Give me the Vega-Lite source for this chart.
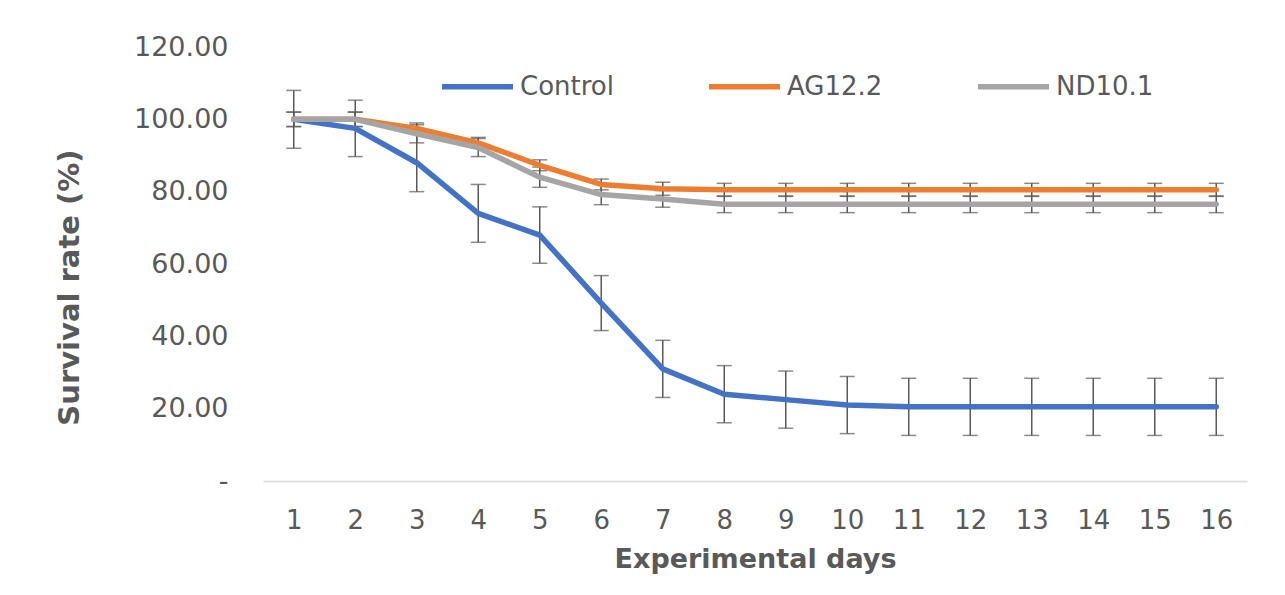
{
  "$schema": "https://vega.github.io/schema/vega-lite/v6.json",
  "autosize": {"type": "none"},
  "width": 984,
  "height": 434,
  "padding": {"left": 263, "top": 47, "right": 38, "bottom": 114},
  "background": "white",
  "config": {
    "view": {"stroke": null},
    "font": "DejaVu Sans"
  },
  "data": {
    "values": [
      {"day": 1, "series": "Control", "value": 100, "err": 8},
      {"day": 2, "series": "Control", "value": 97.5, "err": 7.8},
      {"day": 3, "series": "Control", "value": 88, "err": 8},
      {"day": 4, "series": "Control", "value": 74, "err": 8},
      {"day": 5, "series": "Control", "value": 68, "err": 7.8},
      {"day": 6, "series": "Control", "value": 49.2, "err": 7.6},
      {"day": 7, "series": "Control", "value": 31, "err": 7.9},
      {"day": 8, "series": "Control", "value": 24, "err": 7.9},
      {"day": 9, "series": "Control", "value": 22.5, "err": 7.9},
      {"day": 10, "series": "Control", "value": 21, "err": 7.9},
      {"day": 11, "series": "Control", "value": 20.5, "err": 7.9},
      {"day": 12, "series": "Control", "value": 20.5, "err": 7.9},
      {"day": 13, "series": "Control", "value": 20.5, "err": 7.9},
      {"day": 14, "series": "Control", "value": 20.5, "err": 7.9},
      {"day": 15, "series": "Control", "value": 20.5, "err": 7.9},
      {"day": 16, "series": "Control", "value": 20.5, "err": 7.9},
      {"day": 1, "series": "AG12.2", "value": 100, "err": 2},
      {"day": 2, "series": "AG12.2", "value": 100, "err": 2},
      {"day": 3, "series": "AG12.2", "value": 97.5, "err": 1.5},
      {"day": 4, "series": "AG12.2", "value": 93.5, "err": 1.5},
      {"day": 5, "series": "AG12.2", "value": 87.3, "err": 1.5},
      {"day": 6, "series": "AG12.2", "value": 82, "err": 1.5},
      {"day": 7, "series": "AG12.2", "value": 80.8, "err": 1.8},
      {"day": 8, "series": "AG12.2", "value": 80.5, "err": 1.8},
      {"day": 9, "series": "AG12.2", "value": 80.5, "err": 1.8},
      {"day": 10, "series": "AG12.2", "value": 80.5, "err": 1.8},
      {"day": 11, "series": "AG12.2", "value": 80.5, "err": 1.8},
      {"day": 12, "series": "AG12.2", "value": 80.5, "err": 1.8},
      {"day": 13, "series": "AG12.2", "value": 80.5, "err": 1.8},
      {"day": 14, "series": "AG12.2", "value": 80.5, "err": 1.8},
      {"day": 15, "series": "AG12.2", "value": 80.5, "err": 1.8},
      {"day": 16, "series": "AG12.2", "value": 80.5, "err": 1.8},
      {"day": 1, "series": "ND10.1", "value": 100, "err": 2},
      {"day": 2, "series": "ND10.1", "value": 100, "err": 2},
      {"day": 3, "series": "ND10.1", "value": 96, "err": 2.5},
      {"day": 4, "series": "ND10.1", "value": 92.2, "err": 2.5},
      {"day": 5, "series": "ND10.1", "value": 84, "err": 2.8},
      {"day": 6, "series": "ND10.1", "value": 79.2, "err": 2.8},
      {"day": 7, "series": "ND10.1", "value": 78, "err": 2.3},
      {"day": 8, "series": "ND10.1", "value": 76.5, "err": 2.3},
      {"day": 9, "series": "ND10.1", "value": 76.5, "err": 2.3},
      {"day": 10, "series": "ND10.1", "value": 76.5, "err": 2.3},
      {"day": 11, "series": "ND10.1", "value": 76.5, "err": 2.3},
      {"day": 12, "series": "ND10.1", "value": 76.5, "err": 2.3},
      {"day": 13, "series": "ND10.1", "value": 76.5, "err": 2.3},
      {"day": 14, "series": "ND10.1", "value": 76.5, "err": 2.3},
      {"day": 15, "series": "ND10.1", "value": 76.5, "err": 2.3},
      {"day": 16, "series": "ND10.1", "value": 76.5, "err": 2.3}
    ]
  },
  "encoding": {
    "x": {
      "field": "day",
      "type": "ordinal",
      "scale": {"type": "point", "padding": 0.5},
      "axis": {
        "title": "Experimental days",
        "labelAngle": 0,
        "labelFont": "DejaVu Sans",
        "labelFontSize": 26,
        "labelColor": "#595959",
        "labelPadding": 26,
        "ticks": false,
        "domainColor": "#d9d9d9",
        "domainWidth": 1.5,
        "titleFont": "DejaVu Sans",
        "titleFontSize": 27,
        "titleFontWeight": "bold",
        "titleColor": "#595959",
        "titlePadding": 13
      }
    },
    "y": {
      "field": "value",
      "type": "quantitative",
      "scale": {"domain": [0, 120], "nice": false, "zero": true},
      "axis": {
        "title": "Survival rate (%)",
        "values": [0, 20, 40, 60, 80, 100, 120],
        "labelExpr": "datum.value == 0 ? '-\u00a0\u00a0\u2009' : format(datum.value, '.2f')",
        "labelFont": "DejaVu Sans",
        "labelFontSize": 27,
        "labelColor": "#595959",
        "labelPadding": 35,
        "ticks": false,
        "domain": false,
        "grid": false,
        "titleFont": "DejaVu Sans",
        "titleFontSize": 29,
        "titleFontWeight": "bold",
        "titleColor": "#595959",
        "titleAngle": -90,
        "titleAlign": "center",
        "titleBaseline": "middle",
        "titleX": -194,
        "titleY": 240
      }
    },
    "color": {
      "field": "series",
      "type": "nominal",
      "scale": {
        "domain": ["Control", "AG12.2", "ND10.1"],
        "range": ["#4472C4", "#ED7D31", "#A5A5A5"]
      },
      "legend": {
        "title": null,
        "orient": "none",
        "direction": "horizontal",
        "legendX": 176,
        "legendY": 1,
        "columns": 3,
        "columnPadding": 84,
        "symbolType": "stroke",
        "symbolSize": 5041,
        "symbolStrokeWidth": 5.5,
        "labelOffset": 4,
        "labelFont": "DejaVu Sans",
        "labelFontSize": 26,
        "labelColor": "#595959",
        "labelLimit": 300
      }
    }
  },
  "layer": [
    {
      "mark": {
        "type": "errorbar",
        "color": "#595959",
        "thickness": 1.5,
        "ticks": {"size": 15, "thickness": 1.5, "color": "#595959"}
      },
      "encoding": {
        "y": {"field": "value", "type": "quantitative"},
        "yError": {"field": "err"},
        "color": {"value": "#595959"},
        "detail": {"field": "series", "type": "nominal"}
      }
    },
    {
      "mark": {"type": "line", "strokeWidth": 5.5, "strokeCap": "round", "strokeJoin": "round"},
      "encoding": {}
    }
  ]
}
